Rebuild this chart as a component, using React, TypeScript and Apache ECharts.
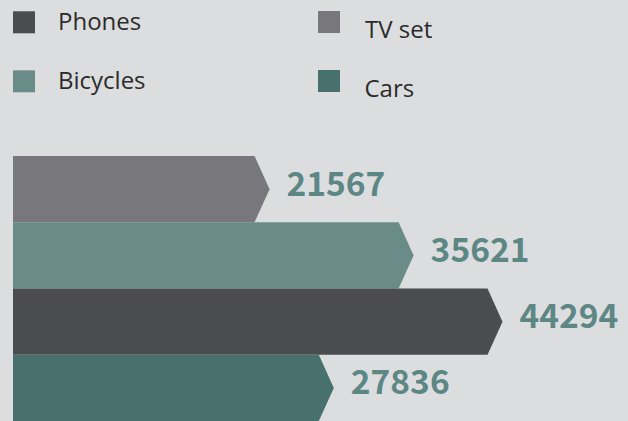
import React, { useEffect, useRef } from "react";
import * as echarts from "echarts";

const categories = ["TV set", "Bicycles", "Phones", "Cars"];
const values = [21567, 35621, 44294, 27836];
const barColors = ["#78787c", "#6a8c89", "#4b4c4e", "#48716d"];
const legendOrder = ["Phones", "TV set", "Bicycles", "Cars"];
const axisMin = -2000;
const axisMax = 50000;

const BG = "#dcdddf";
const LABEL_COLOR = "#5d8784";
const LEGEND_TEXT = "#2b2b2b";
const TIP = 15;

export default function App() {
  const ref = useRef<HTMLDivElement>(null);

  useEffect(() => {
    if (!ref.current) return;
    const chart = echarts.init(ref.current, undefined, { renderer: "svg" });

    const legendBase = {
      orient: "horizontal",
      padding: 0,
      itemWidth: 22,
      itemHeight: 22,
      icon: "rect",
      selectedMode: false,
      formatter: "{t|{name}}",
    };
    const legendPos = [
      { left: 13, top: 8, pad: [0, 0, 4.6, 18] },
      { left: 318, top: 11, pad: [12, 0, 0, 20] },
      { left: 13, top: 67, pad: [0, 0, 4.6, 18] },
      { left: 318, top: 70, pad: [12, 0, 0, 19.5] },
    ];

    const legends = legendOrder.map((name, i) => ({
      ...legendBase,
      data: [name],
      left: legendPos[i].left,
      top: legendPos[i].top,
      textStyle: {
        fontFamily: "Open Sans",
        fontSize: 24,
        color: LEGEND_TEXT,
        padding: legendPos[i].pad,
        rich: {
          t: { fontFamily: "Open Sans", fontSize: 24, color: LEGEND_TEXT },
        },
      },
    }));

    const series = categories.map((name, i) => ({
      name,
      type: "custom",
      itemStyle: { color: barColors[i] },
      encode: { x: 0, y: 1 },
      data: [[values[i], i]],
      renderItem: (params: any, api: any) => {
        const v = api.value(0);
        const c = api.value(1);
        const end = api.coord([v, c]);
        const h = api.size([0, 1])[1];
        const x0 = params.coordSys.x;
        const top = end[1] - h / 2;
        const bottom = end[1] + h / 2;
        return {
          type: "group",
          children: [
            {
              type: "polygon",
              shape: {
                points: [
                  [x0, top],
                  [end[0], top],
                  [end[0] + TIP, end[1]],
                  [end[0], bottom],
                  [x0, bottom],
                ],
              },
              style: { fill: api.visual("color") },
            },
            {
              type: "text",
              x: end[0] + TIP + 17,
              y: end[1] - 8,
              style: {
                text: String(v),
                fill: LABEL_COLOR,
                font: 'bold 33.5px "Noto Sans CJK JP"',
                verticalAlign: "middle",
                align: "left",
              },
            },
          ],
        };
      },
    }));

    chart.setOption({
      animation: false,
      backgroundColor: BG,
      legend: legends,
      grid: { left: 13, right: 82, top: 156, bottom: -3, containLabel: false },
      xAxis: { type: "value", min: axisMin, max: axisMax, show: false },
      yAxis: {
        type: "category",
        data: categories,
        inverse: true,
        show: false,
      },
      series,
    });

    return () => chart.dispose();
  }, []);

  return (
    <div
      ref={ref}
      style={{ position: "fixed", left: 0, top: 0, width: 628, height: 421, background: BG }}
    />
  );
}
